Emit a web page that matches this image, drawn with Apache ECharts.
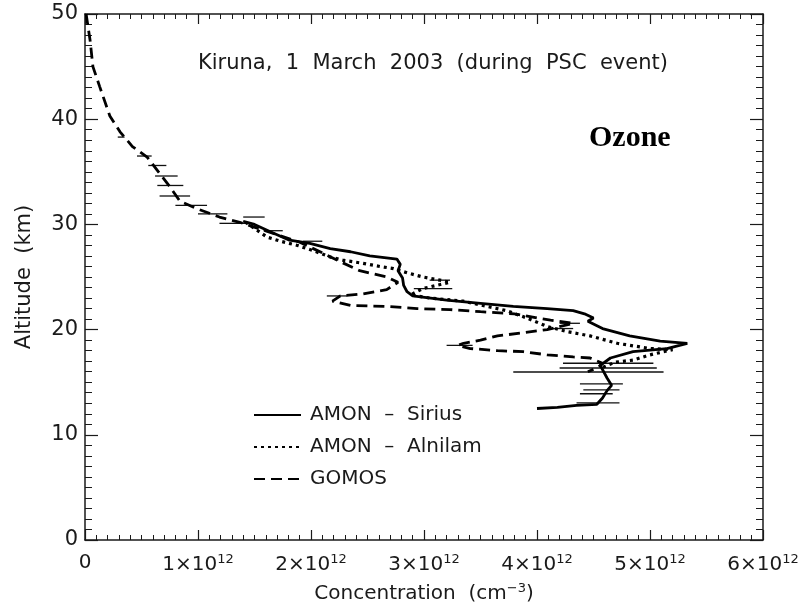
<!DOCTYPE html>
<html>
<head>
<meta charset="utf-8">
<script src="https://cdn.jsdelivr.net/npm/echarts@6/dist/echarts.min.js"></script>
<style>
  html, body { margin: 0; padding: 0; background: #fff; }
  #chart { width: 803px; height: 609px; }
</style>
</head>
<body>
<div id="chart"></div>
<script>
// concentrations are in units of 1e12 cm^-3, altitudes in km
var xTicks = [0, 1, 2, 3, 4, 5, 6];
var yTicks = [0, 10, 20, 30, 40, 50];

var siriusAlt  = [30.3, 30.0, 29.3, 28.5, 28.2, 27.7, 27.4, 27.0, 26.7, 26.2, 25.6, 24.9, 24.2, 23.6, 23.2, 22.8, 22.5, 22.2, 22.0, 21.8, 21.5, 21.1, 20.8, 20.1, 19.4, 18.9, 18.7, 18.2, 17.9, 17.3, 16.6, 16.2, 15.4, 14.7, 14.2, 13.5, 12.9, 12.8, 12.6, 12.5];
var siriusConc = [1.40, 1.50, 1.64, 1.81, 1.99, 2.17, 2.35, 2.52, 2.76, 2.79, 2.77, 2.81, 2.82, 2.85, 2.90, 3.20, 3.50, 3.79, 4.09, 4.32, 4.42, 4.50, 4.45, 4.58, 4.82, 5.09, 5.33, 5.15, 4.85, 4.65, 4.56, 4.58, 4.62, 4.66, 4.62, 4.58, 4.53, 4.35, 4.18, 4.00];

var alnilamAlt  = [30.2, 28.8, 28.4, 28.0, 27.5, 26.9, 26.6, 26.3, 26.0, 25.8, 25.4, 25.0, 24.7, 24.5, 23.9, 23.3, 23.0, 22.7, 21.8, 21.1, 20.3, 19.8, 19.4, 18.7, 18.2, 18.1, 17.6, 17.1, 16.9, 16.4];
var alnilamConc = [1.42, 1.61, 1.73, 1.88, 2.02, 2.17, 2.28, 2.46, 2.61, 2.73, 2.85, 2.99, 3.14, 3.23, 2.99, 2.88, 3.05, 3.35, 3.73, 3.91, 4.09, 4.27, 4.47, 4.71, 5.00, 5.20, 5.00, 4.85, 4.69, 4.58];

var gomosAlt  = [50.0, 47.5, 45.0, 43.1, 40.3, 38.8, 37.4, 36.4, 35.0, 33.6, 32.2, 31.5, 30.7, 30.2, 29.3, 28.3, 27.3, 26.5, 25.6, 25.0, 24.5, 23.8, 23.4, 23.2, 22.7, 22.3, 22.2, 22.0, 21.9, 21.7, 21.5, 21.1, 20.9, 20.6, 20.0, 19.7, 19.4, 19.0, 18.7, 18.5, 18.2, 18.0, 17.9, 17.6, 17.4, 17.3, 16.8, 16.4, 16.0];
var gomosConc = [0.01, 0.045, 0.07, 0.13, 0.22, 0.31, 0.42, 0.55, 0.65, 0.75, 0.84, 0.99, 1.19, 1.37, 1.62, 1.90, 2.10, 2.25, 2.43, 2.67, 2.77, 2.67, 2.46, 2.26, 2.19, 2.35, 2.67, 2.94, 3.23, 3.50, 3.80, 4.00, 4.12, 4.32, 4.09, 3.88, 3.65, 3.50, 3.35, 3.30, 3.41, 3.65, 3.88, 4.09, 4.32, 4.47, 4.58, 4.54, 4.45];

// horizontal error bars: altitude, low, high
var errAlt  = [38.3, 36.5, 35.6, 34.6, 33.7, 32.7, 31.8, 31.0, 30.1, 30.7, 29.4, 28.4, 24.7, 23.9, 23.2, 20.6, 20.1, 18.5, 16.8, 16.35, 15.97, 14.84, 14.27, 13.9, 13.04];
var errLow  = [0.29, 0.46, 0.56, 0.62, 0.64, 0.66, 0.80, 1.00, 1.19, 1.40, 1.58, 1.93, 3.05, 2.91, 2.14, 4.20, 4.09, 3.20, 4.23, 4.20, 3.79, 4.38, 4.41, 4.38, 4.35];
var errHigh = [0.35, 0.59, 0.72, 0.82, 0.87, 0.93, 1.08, 1.26, 1.43, 1.59, 1.75, 2.10, 3.23, 3.25, 2.32, 4.38, 4.32, 3.43, 5.03, 5.06, 5.12, 4.76, 4.73, 4.67, 4.73];

function pairs(xs, ys) {
  return xs.map(function (x, i) { return [x, ys[i]]; });
}

var txt = '#1a1a1a';
var font = 'DejaVu Sans';

var chart = echarts.init(document.getElementById('chart'));

var axisCommon = {
  type: 'value',
  axisLine: { show: true, onZero: false, lineStyle: { color: txt, width: 1.5 } },
  axisTick: { show: true, inside: true, length: 10, lineStyle: { color: txt, width: 1.2 } },
  minorTick: { show: true, splitNumber: 10, length: 5, lineStyle: { color: txt, width: 1 } },
  splitLine: { show: false }
};

var supRich = {
  a: { fontSize: 20, fontFamily: font, color: txt },
  s: { fontSize: 13, fontFamily: font, color: txt, padding: [0, 0, 11, 0] }
};

var option = {
  backgroundColor: '#fff',
  animation: false,
  grid: { left: 85, top: 14, width: 678, height: 529 },
  textStyle: { fontFamily: font },
  legend: {
    orient: 'vertical',
    left: 248,
    top: 400,
    padding: 5,
    itemWidth: 47,
    itemHeight: 14,
    itemGap: 12,
    itemStyle: { opacity: 0 },
    textStyle: { fontFamily: font, fontSize: 20, color: txt, lineHeight: 20, padding: [0, 0, 0, 4] },
    data: ['AMON  \u2013  Sirius', 'AMON  \u2013  Alnilam', 'GOMOS']
  },
  xAxis: [
    Object.assign({}, axisCommon, {
      position: 'bottom', min: 0, max: 6, interval: 1,
      axisLabel: {
        margin: 13, color: txt, fontSize: 20, fontFamily: font,
        formatter: function (v) { return v === 0 ? '{a|0}' : '{a|' + v + '\u00d710}{s|12}'; },
        rich: supRich
      },
      name: '{a|Concentration  (cm}{s|\u22123}{a|)}',
      nameLocation: 'middle',
      nameGap: 42,
      nameTextStyle: { rich: supRich }
    }),
    Object.assign({}, axisCommon, {
      position: 'top', min: 0, max: 6, interval: 1,
      axisLabel: { show: false }
    })
  ],
  yAxis: [
    Object.assign({}, axisCommon, {
      position: 'left', min: 0, max: 50, interval: 10,
      axisTick: { show: true, inside: true, length: 13, lineStyle: { color: txt, width: 1.2 } },
      minorTick: { show: true, splitNumber: 10, length: 7, lineStyle: { color: txt, width: 1 } },
      axisLabel: { margin: 7, color: txt, fontSize: 21, fontFamily: font },
      name: 'Altitude  (km)',
      nameLocation: 'middle',
      nameGap: 50,
      nameTextStyle: { fontSize: 21, fontFamily: font, color: txt }
    }),
    Object.assign({}, axisCommon, {
      position: 'right', min: 0, max: 50, interval: 10,
      axisTick: { show: true, inside: true, length: 13, lineStyle: { color: txt, width: 1.2 } },
      minorTick: { show: true, splitNumber: 10, length: 7, lineStyle: { color: txt, width: 1 } },
      axisLabel: { show: false }
    })
  ],
  graphic: [
    {
      type: 'text', left: 198, top: 53,
      style: { text: 'Kiruna,  1  March  2003  (during  PSC  event)', fontFamily: font, fontSize: 21, fill: txt }
    },
    {
      type: 'text', left: 589, top: 123,
      style: { text: 'Ozone', fontFamily: 'Liberation Serif', fontWeight: 'bold', fontSize: 30, fill: '#000' }
    }
  ],
  series: [
    {
      name: 'errors',
      type: 'custom',
      data: errAlt.map(function (a, i) { return [errLow[i], errHigh[i], a]; }),
      encode: { x: [0, 1], y: 2 },
      renderItem: function (params, api) {
        var p1 = api.coord([api.value(0), api.value(2)]);
        var p2 = api.coord([api.value(1), api.value(2)]);
        return {
          type: 'line',
          shape: { x1: p1[0], y1: p1[1], x2: p2[0], y2: p2[1] },
          style: { stroke: '#111', lineWidth: 1.3 }
        };
      },
      z: 1
    },
    {
      name: 'AMON  \u2013  Sirius',
      type: 'line',
      data: pairs(siriusConc, siriusAlt),
      symbol: 'none',
      color: '#000',
      lineStyle: { color: '#000', width: 2.8, type: 'solid' },
      z: 3
    },
    {
      name: 'AMON  \u2013  Alnilam',
      type: 'line',
      data: pairs(alnilamConc, alnilamAlt),
      symbol: 'none',
      color: '#000',
      lineStyle: { color: '#000', width: 3.2, type: [3, 4] },
      z: 3
    },
    {
      name: 'GOMOS',
      type: 'line',
      data: pairs(gomosConc, gomosAlt),
      symbol: 'none',
      color: '#000',
      lineStyle: { color: '#000', width: 2.8, type: [11, 6] },
      z: 3
    }
  ]
};

chart.setOption(option);
window.addEventListener('resize', function () {
  chart.resize();
});
</script>
</body>
</html>
